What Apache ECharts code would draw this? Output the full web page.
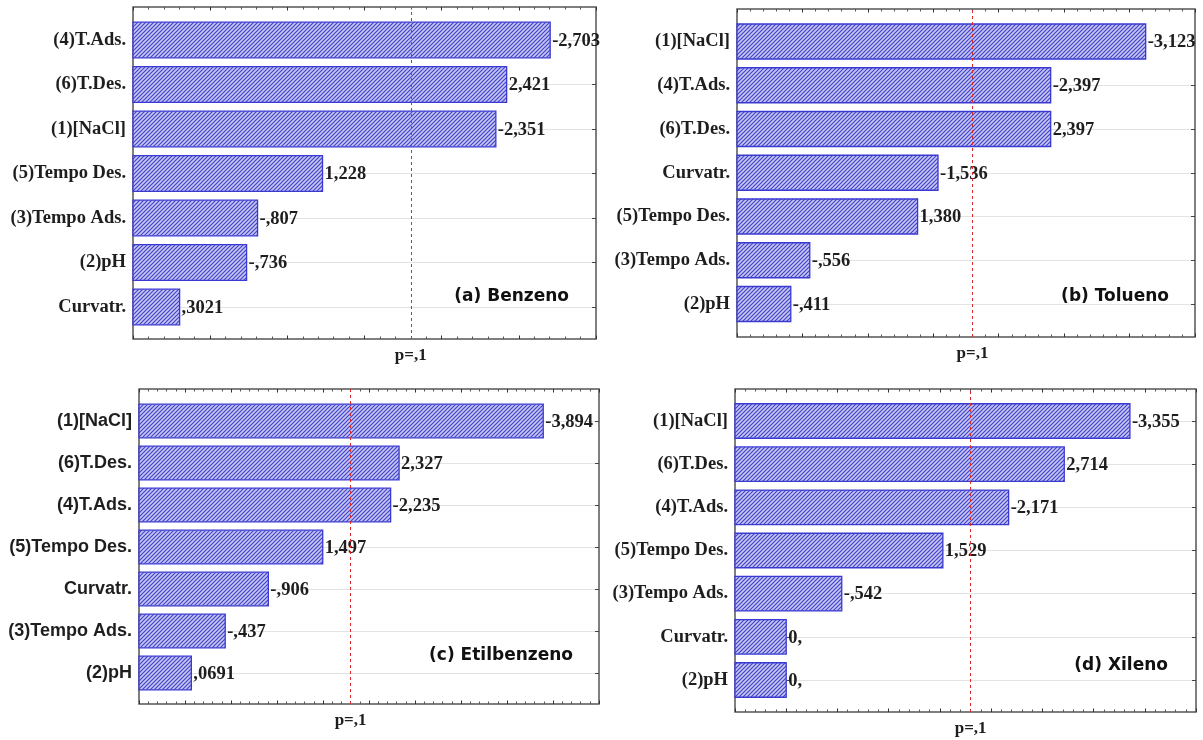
<!DOCTYPE html>
<html>
<head>
<meta charset="utf-8">
<script src="https://cdn.jsdelivr.net/npm/echarts@6/dist/echarts.min.js"></script>
<style>
  html, body { margin: 0; padding: 0; background: #ffffff; }
  #chart { width: 1203px; height: 740px; }
</style>
</head>
<body>
<div id="chart"></div>
<script>
// Standardized effect estimates (t values) for each analyte, ordered as plotted (top to bottom)
const benzenoFactors = ['(4)T.Ads.', '(6)T.Des.', '(1)[NaCl]', '(5)Tempo Des.', '(3)Tempo Ads.', '(2)pH', 'Curvatr.'];
const benzenoEffects = [-2.703, 2.421, -2.351, 1.228, -0.807, -0.736, 0.3021];

const toluenoFactors = ['(1)[NaCl]', '(4)T.Ads.', '(6)T.Des.', 'Curvatr.', '(5)Tempo Des.', '(3)Tempo Ads.', '(2)pH'];
const toluenoEffects = [-3.123, -2.397, 2.397, -1.536, 1.380, -0.556, -0.411];

const etilbenzenoFactors = ['(1)[NaCl]', '(6)T.Des.', '(4)T.Ads.', '(5)Tempo Des.', 'Curvatr.', '(3)Tempo Ads.', '(2)pH'];
const etilbenzenoEffects = [-3.894, 2.327, -2.235, 1.497, -0.906, -0.437, 0.0691];

const xilenoFactors = ['(1)[NaCl]', '(6)T.Des.', '(4)T.Ads.', '(5)Tempo Des.', '(3)Tempo Ads.', 'Curvatr.', '(2)pH'];
const xilenoEffects = [-3.355, 2.714, -2.171, 1.529, -0.542, 0, 0];

const panelTitles = ['(a) Benzeno', '(b) Tolueno', '(c) Etilbenzeno', '(d) Xileno'];
const axisRanges = [[0, 3], [0, 3.5], [-0.5, 4.5], [-0.5, 4]];
const criticalT = 1.796;          // t value at p = 0.1
const criticalLabel = 'p=,1';

// Layout of each panel: frame box, first/last bar centre, title anchor
const layouts = [
  { frame: [133, 7, 463, 332],   inner: [40, 267],    title: { right: 634, top: 287 }, catFont: 'serif' },
  { frame: [737, 9, 458, 328],   inner: [41.5, 262.5], title: { right: 34, top: 287 },  catFont: 'serif' },
  { frame: [139, 389, 460, 315], inner: [421, 252],   title: { right: 630, top: 646 }, catFont: 'sans' },
  { frame: [735, 389, 461, 323], inner: [421, 259],   title: { right: 35, top: 656 },  catFont: 'serif' }
];

const panels = [
  { factors: benzenoFactors, effects: benzenoEffects },
  { factors: toluenoFactors, effects: toluenoEffects },
  { factors: etilbenzenoFactors, effects: etilbenzenoEffects },
  { factors: xilenoFactors, effects: xilenoEffects }
];

const SERIF = '"Liberation Serif", "Times New Roman", serif';
const SANS = '"Liberation Sans", Arial, sans-serif';
const TEXT_COLOR = '#1e1e1e';

// Diagonal hatch used to fill the bars
function makeHatch() {
  const s = 4;
  const c = document.createElement('canvas');
  c.width = s; c.height = s;
  const g = c.getContext('2d');
  g.fillStyle = '#c6c6f2';
  g.fillRect(0, 0, s, s);
  g.strokeStyle = '#4444cc';
  g.lineWidth = 1.2;
  g.beginPath();
  g.moveTo(-1, s + 1); g.lineTo(s + 1, -1);
  g.moveTo(-1, 1); g.lineTo(1, -1);
  g.moveTo(s - 1, s + 1); g.lineTo(s + 1, s - 1);
  g.stroke();
  return c;
}
const hatch = { image: makeHatch(), repeat: 'repeat' };

// Statistica style number text: decimal comma, no leading zero
function fmtEffect(v) {
  if (v === 0) return '0,';
  const a = Math.abs(v);
  let s = a >= 1 ? a.toFixed(3) : a.toPrecision(4).replace(/0+$/, '');
  s = s.replace(/^0\./, '.').replace('.', ',');
  return (v < 0 ? '-' : '') + s;
}

const grid = [], xAxis = [], yAxis = [], series = [], title = [];

panels.forEach((p, k) => {
  const L = layouts[k];
  const [min, max] = axisRanges[k];
  const [fl, ft, fw, fh] = L.frame;
  const gFrame = grid.length;
  grid.push({ left: fl, top: ft, width: fw, height: fh, show: true,
              borderColor: '#555555', borderWidth: 1.5, backgroundColor: 'transparent' });
  const gInner = grid.length;
  grid.push({ left: fl, top: L.inner[0], width: fw, height: L.inner[1] });

  const tickAxis = (pos) => ({
    type: 'value', gridIndex: gFrame, position: pos, min, max, interval: 0.5,
    axisLine: { show: false },
    axisLabel: { show: false },
    splitLine: { show: false },
    axisTick: { show: true, inside: true, length: 3.5, lineStyle: { color: '#333', width: 1 } },
    minorTick: { show: true, splitNumber: 5, length: 2.5, lineStyle: { color: '#555', width: 1 } }
  });
  const xFrameB = xAxis.length; xAxis.push(tickAxis('bottom'));
  xAxis.push(tickAxis('top'));
  const xInner = xAxis.length;
  xAxis.push({ type: 'value', gridIndex: gInner, min, max, show: false });

  const yFrame = yAxis.length;
  yAxis.push({ type: 'value', gridIndex: gFrame, min: 0, max: 1, show: false });
  const yInner = yAxis.length;
  const catSans = L.catFont === 'sans';
  yAxis.push({
    type: 'category', gridIndex: gInner, data: p.factors, inverse: true, boundaryGap: false,
    axisLine: { show: false },
    axisTick: { show: true, inside: true, length: 4, lineStyle: { color: '#444' } },
    axisLabel: { margin: 7, color: TEXT_COLOR, fontFamily: catSans ? SANS : SERIF,
                 fontWeight: 'bold', fontSize: catSans ? 18 : 18.5 },
    splitLine: { show: true, lineStyle: { color: '#e3e3e3', width: 1 } }
  });
  yAxis.push({
    type: 'category', gridIndex: gInner, data: p.factors, inverse: true, boundaryGap: false,
    position: 'right',
    axisLine: { show: false },
    axisTick: { show: true, inside: true, length: 4, lineStyle: { color: '#444' } },
    axisLabel: { show: false },
    splitLine: { show: false }
  });

  series.push({
    type: 'custom',
    xAxisIndex: xInner, yAxisIndex: yInner,
    data: p.effects.map((v, i) => [Math.abs(v), i, v]),
    encode: { x: 0, y: 1 },
    renderItem: (params, api) => {
      const idx = api.value(1);
      const start = api.coord([min, idx]);
      const end = api.coord([api.value(0), idx]);
      const h = api.size([0, 1])[1] * 0.8;
      return {
        type: 'group',
        children: [
          { type: 'rect',
            shape: { x: start[0], y: start[1] - h / 2, width: end[0] - start[0], height: h },
            style: { fill: hatch, stroke: '#3a3ad2', lineWidth: 1.3 } },
          { type: 'text', x: end[0] + 2, y: end[1] + 1,
            style: { text: fmtEffect(api.value(2)), fill: TEXT_COLOR,
                     font: 'bold 18.5px ' + SERIF, align: 'left', verticalAlign: 'middle' } }
        ]
      };
    },
    z: 3
  });

  series.push({
    type: 'line', xAxisIndex: xFrameB, yAxisIndex: yFrame, data: [],
    markLine: {
      silent: true, symbol: 'none', z: 4,
      lineStyle: { color: '#e02828', type: [3, 3], width: 1 },
      label: { show: true, position: 'start', formatter: criticalLabel, distance: 8,
               color: TEXT_COLOR, fontFamily: SERIF, fontWeight: 'bold', fontSize: 17 },
      data: [{ xAxis: criticalT }]
    }
  });

  title.push({
    text: panelTitles[k], right: L.title.right, top: L.title.top, padding: 0,
    textStyle: { fontFamily: '"DejaVu Sans", sans-serif', fontWeight: 'bold', fontSize: 17,
                 color: '#111', lineHeight: 20 }
  });
});

const chart = echarts.init(document.getElementById('chart'), null, { renderer: 'canvas' });
chart.setOption({ animation: false, backgroundColor: '#ffffff', title, grid, xAxis, yAxis, series });
</script>
</body>
</html>
